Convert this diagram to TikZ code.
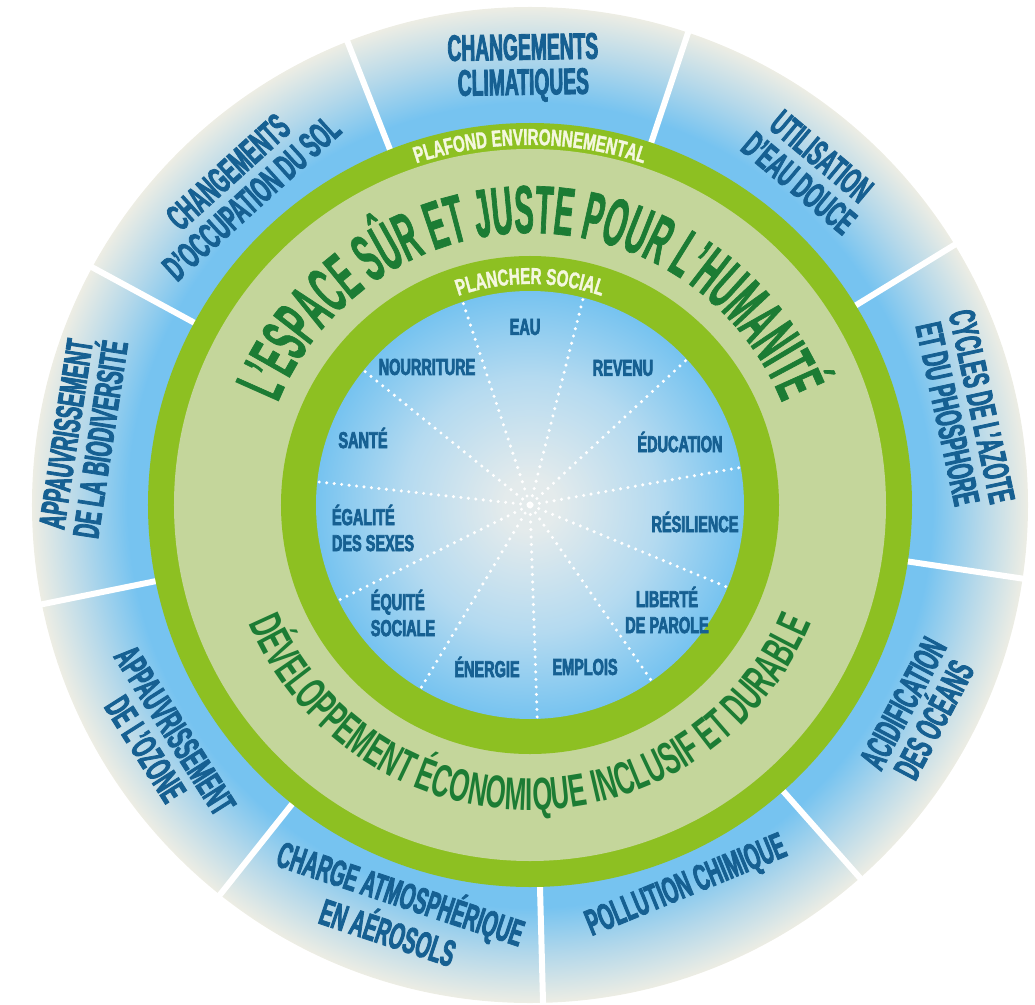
\documentclass[tikz,border=0pt]{standalone}
\usepackage{fontspec}
\setmainfont{Liberation Sans}
\newfontfamily\outfont{Liberation Sans}[FakeStretch=0.52,BoldFeatures={FakeBold=2.2}]
\newfontfamily\lblfont{Liberation Sans}[FakeStretch=0.63,BoldFeatures={FakeBold=3}]
\newfontfamily\bigfont{Liberation Sans}[FakeStretch=0.43,BoldFeatures={FakeBold=1}]
\newfontfamily\devfont{Liberation Sans}[FakeStretch=0.56]
\newfontfamily\ringfont{Liberation Sans}[FakeStretch=0.66,BoldFeatures={FakeBold=1.5}]
\usetikzlibrary{decorations.text}
\definecolor{ringgreen}{RGB}{141,192,34}
\definecolor{bandgreen}{RGB}{196,214,155}
\definecolor{textgreen}{RGB}{28,124,52}
\definecolor{lblblue}{RGB}{22,96,146}
\definecolor{sky}{RGB}{118,195,240}
\definecolor{skymid}{RGB}{180,216,234}
\definecolor{outerpale}{RGB}{237,237,228}
\definecolor{innerpale}{RGB}{228,235,236}
\definecolor{innermid}{RGB}{180,218,240}
\definecolor{ringtext}{RGB}{244,247,222}
\pgfdeclareradialshading{outershade}{\pgfpointorigin}{color(0bp)=(sky); color(19.2bp)=(sky); color(20.2bp)=(sky); color(22.6bp)=(skymid); color(25bp)=(outerpale); color(50bp)=(outerpale)}
\pgfdeclareradialshading{innershade}{\pgfpointorigin}{color(0bp)=(innerpale); color(3bp)=(innerpale); color(15bp)=(innermid); color(25bp)=(sky); color(50bp)=(sky)}
\tikzset{
  outlbl/.style={text=lblblue, font=\outfont\bfseries\fontsize{37}{35}\selectfont, align=center, inner sep=0pt},
  inlbl/.style={text=lblblue, font=\lblfont\bfseries\fontsize{23}{26}\selectfont, align=center, inner sep=0pt},
  sepline/.style={white, line width=6pt},
  dotline/.style={white, line width=3.4pt, line cap=round, dash pattern=on 0pt off 7.5pt}
}
\begin{document}
\begin{tikzpicture}[x=1pt,y=1pt]
\useasboundingbox (-530,-499) rectangle (505,505);
\coordinate (c) at (0,0);
% outer ring
\shade[shading=outershade] (c) circle (498);
\foreach \a [count=\i] in {111.5,71.5,31.5,-8.5,-48.5,-88.5,-128.5,-168.5,151.5}
  {\coordinate (s\i a) at (\a:375); \coordinate (s\i b) at (\a:505); \draw[sepline] (s\i a) -- (s\i b);}
% rings
\fill[ringgreen] (c) circle (382);
\fill[bandgreen] (c) circle (356);
\fill[ringgreen] (c) circle (249);
\shade[shading=innershade] (c) circle (214);
% dotted spokes
\foreach \a [count=\i] in {108.3,75.57,42.85,10.12,-22.61,-55.34,-88.06,-120.79,-153.52,173.76,141.03}
  {\coordinate (d\i) at (\a:212); \draw[dotline] (d\i) -- (c);}
% outer labels
\node[outlbl, rotate=0.9] (clim) at (90.9:437) {CHANGEMENTS\\CLIMATIQUES};
\node[outlbl, rotate=-39.9] (eaudouce) at (50.1:437) {UTILISATION\\D’EAU DOUCE};
\node[outlbl, rotate=-77.7] (cycles) at (12.3:445) {CYCLES DE L’AZOTE\\ET DU PHOSPHORE};
\node[outlbl, rotate=62] (acid) at (-28:440) {ACIDIFICATION\\DES OCÉANS};
\node[outlbl, rotate=22.3] (poll) at (-67.7:413) {POLLUTION CHIMIQUE};
\node[outlbl, rotate=-18.4] (charge) at (-108.4:427) {CHARGE ATMOSPHÉRIQUE\\EN AÉROSOLS};
\node[outlbl, rotate=-57.6] (ozone) at (-147.6:438) {APPAUVRISSEMENT\\DE L’OZONE};
\node[outlbl, rotate=81.3] (bio) at (171.3:452) {APPAUVRISSEMENT\\DE LA BIODIVERSITÉ};
\node[outlbl, rotate=42.2] (sol) at (132.2:432) {CHANGEMENTS\\D’OCCUPATION DU SOL};
% inner labels
\node[inlbl] (eau) at (-5,178) {EAU};
\node[inlbl] (revenu) at (93,137) {REVENU};
\node[inlbl] (educ) at (150,63) {ÉDUCATION};
\node[inlbl] (resil) at (165,-17) {RÉSILIENCE};
\node[inlbl] (liberte) at (137,-105) {LIBERTÉ\\DE PAROLE};
\node[inlbl] (emplois) at (55,-162) {EMPLOIS};
\node[inlbl] (energie) at (-43,-162) {ÉNERGIE};
\node[inlbl, align=left] (equite) at (-127,-108) {ÉQUITÉ\\SOCIALE};
\node[inlbl, align=left] (egalite) at (-157,-23) {ÉGALITÉ\\DES SEXES};
\node[inlbl] (sante) at (-167,67) {SANTÉ};
\node[inlbl] (nourr) at (-103,138) {NOURRITURE};
% curved texts
\path[decorate,decoration={text along path,text align=center,
  text={|\ringfont\bfseries\fontsize{23}{23}\selectfont\color{ringtext}|PLAFOND ENVIRONNEMENTAL}}]
  (170:360) arc[start angle=170,end angle=10,radius=360];
\path[decorate,decoration={text along path,text align=center,
  text={|\ringfont\bfseries\fontsize{23}{23}\selectfont\color{ringtext}|PLANCHER SOCIAL}}]
  (170:221) arc[start angle=170,end angle=10,radius=221];
\path[decorate,decoration={text along path,text align=center,
  text={|\bigfont\bfseries\fontsize{68}{68}\selectfont\color{textgreen}|L’ESPACE SÛR ET JUSTE POUR L’HUMANITÉ}}]
  (175:272) arc[start angle=175,end angle=5,radius=272];
\path[decorate,decoration={text along path,text align=center,
  text={|\devfont\bfseries\fontsize{46}{46}\selectfont\color{textgreen}|DÉVELOPPEMENT ÉCONOMIQUE INCLUSIF ET DURABLE}}]
  (-175:305) arc[start angle=-175,end angle=-5,radius=305];
\end{tikzpicture}
\end{document}
